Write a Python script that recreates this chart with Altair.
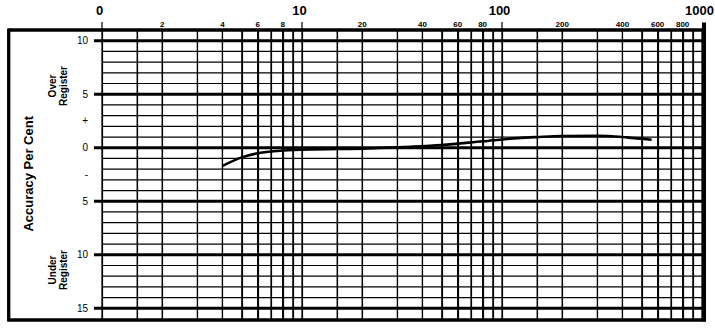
import json
import altair as alt
import pandas as pd

# ---------------- data ----------------
CURVE_X = [4, 5, 6, 7.5, 9, 11, 15, 20, 35, 50, 80, 120, 150, 200, 300, 420, 560]
CURVE_Y = [-1.7, -0.9, -0.52, -0.31, -0.21, -0.15, -0.12, -0.08, 0.09, 0.25, 0.6, 0.9, 1.0, 1.1, 1.12, 0.97, 0.75]

GRID_X = [1, 1.5, 2, 3, 4, 5, 6, 7, 8, 9, 10, 15, 20, 30, 40, 50, 60, 70, 80, 90,
          100, 150, 200, 300, 400, 500, 600, 700, 800, 900, 1000]
MINOR_LABEL_X = [2, 4, 6, 8, 20, 40, 60, 80, 200, 400, 600, 800]
MAJOR_X = [1, 10, 100, 1000]
DECADE_TICKS = [1, 10, 100]

THIN_Y = [9, 8, 7, 6, 4, 3, 2, 1, -1, -2, -3, -4, -6, -7, -8, -9, -11, -12, -13, -14]
THICK_Y = [10, 5, 0, -5, -10, -15]
Y_LABEL_VALUES = [10, 5, 2.5, 0, -2.5, -5, -10, -15]
Y_LABEL_TEXT = ["10", "5", "+", "0", "-", "5", "10", "15"]

F = "Liberation Sans"

xs = alt.Scale(type="log", domain=[1, 1000], nice=False)
ys = alt.Scale(domain=[-16, 11], nice=False, zero=False)

y_label_expr = "''"
for v, t in reversed(list(zip(Y_LABEL_VALUES, Y_LABEL_TEXT))):
    y_label_expr = "datum.value == %s ? '%s' : (%s)" % (v, t, y_label_expr)

# grid-only x axis (all vertical lines)
grid_axis = alt.Axis(
    orient="top", values=GRID_X, grid=True, gridColor="black", gridWidth=1.2, gridOpacity=1,
    ticks=False, domain=False, labels=False, title=None,
)

# major labels axis
major_axis = alt.Axis(
    orient="top", values=MAJOR_X, grid=False, ticks=False, domain=False, title=None,
    labelExpr="datum.value == 1 ? '0' : '' + datum.value",
    labelFont=F, labelFontWeight="bold", labelColor="black", labelFontSize=13,
    labelPadding=12.3, labelOffset=-3,
    labelOverlap=False, labelFlush=False, labelBound=False,
)

y_axis = alt.Axis(
    orient="left", values=Y_LABEL_VALUES, grid=False, ticks=False, domain=False,
    labelExpr=y_label_expr, labelFont=F, labelFontSize=10, labelColor="black",
    labelPadding=14.5, labelOverlap=False,
    title="Accuracy Per Cent", titleFont=F, titleFontSize=13, titleFontWeight="bold",
    titleColor="black", titleAngle=270, titleAlign="center", titleBaseline="alphabetic",
    titleX=-69.7, titleY=143.3,
)

vgrid = alt.Chart(pd.DataFrame({"x": GRID_X})).mark_rule(color="black", strokeWidth=1.2).encode(
    x=alt.X("x:Q", scale=xs, axis=grid_axis)
)

curve = alt.Chart(pd.DataFrame({"x": CURVE_X, "y": CURVE_Y})).mark_line(
    color="black", strokeWidth=2.6, interpolate="monotone"
).encode(
    x=alt.X("x:Q", scale=xs, axis=None),
    y=alt.Y("y:Q", scale=ys, axis=y_axis),
)

thin = alt.Chart(pd.DataFrame({"y": THIN_Y})).mark_rule(color="black", strokeWidth=1.2).encode(
    y=alt.Y("y:Q", scale=ys, axis=None)
)

thick = alt.Chart(pd.DataFrame({"y": THICK_Y})).mark_rule(color="black", strokeWidth=3).encode(
    y=alt.Y("y:Q", scale=ys, axis=None), x=alt.value(-8), x2=alt.value(600)
)

dticks = alt.Chart(pd.DataFrame({"x": DECADE_TICKS})).mark_rule(color="black", strokeWidth=1.2).encode(
    x=alt.X("x:Q", scale=xs, axis=major_axis), y=alt.value(-8), y2=alt.value(0)
)

minor_labels = alt.Chart(pd.DataFrame({"x": MINOR_LABEL_X})).mark_text(
    font=F, fontSize=8, fontWeight="bold", color="black", align="center", baseline="alphabetic"
).encode(
    x=alt.X("x:Q", scale=xs, axis=None), y=alt.value(-3.3), text=alt.Text("x:Q", format="d")
)

one = pd.DataFrame({"k": [0]})
frame_top = alt.Chart(one).mark_rule(color="black", strokeWidth=3.3).encode(
    x=alt.value(-93.5), x2=alt.value(604), y=alt.value(0))
frame_bottom = alt.Chart(one).mark_rule(color="black", strokeWidth=3.3).encode(
    x=alt.value(-93.5), x2=alt.value(604), y=alt.value(290))
frame_left = alt.Chart(one).mark_rule(color="black", strokeWidth=3.3).encode(
    x=alt.value(-93.3), y=alt.value(-1.6), y2=alt.value(291.6))
frame_right = alt.Chart(one).mark_rule(color="black", strokeWidth=4).encode(
    x=alt.value(602), y=alt.value(-7.5), y2=alt.value(291.6))

over = alt.Chart(one).mark_text(
    angle=270, font=F, fontSize=10, fontWeight="bold", lineHeight=10.5,
    align="center", baseline="middle", color="black"
).encode(x=alt.value(-49), y=alt.value(56), text=alt.value(["Over", "Register"]))

under = alt.Chart(one).mark_text(
    angle=270, font=F, fontSize=10, fontWeight="bold", lineHeight=10.5,
    align="center", baseline="middle", color="black"
).encode(x=alt.value(-49), y=alt.value(240), text=alt.value(["Under", "Register"]))

chart = alt.layer(
    vgrid, thin, thick, curve, dticks, minor_labels,
    frame_top, frame_bottom, frame_left, frame_right, over, under
).resolve_axis(x="independent", y="independent").properties(
    width=600, height=289,
    padding={"left": 102, "top": 30, "right": 13, "bottom": 11},
    autosize=alt.AutoSizeParams(type="none"),
    background="white",
).configure_view(stroke=None)

chart.save("out.html", embed_options={"renderer": "svg", "actions": False})
